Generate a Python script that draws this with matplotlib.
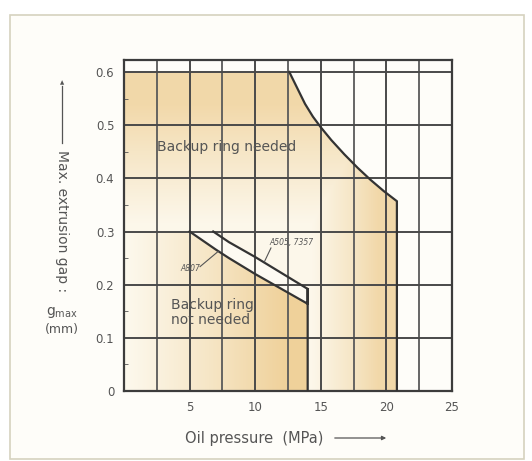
import numpy as np
import matplotlib
matplotlib.use("Agg")
import matplotlib.pyplot as plt
from matplotlib.patches import Polygon, Rectangle
from matplotlib.colors import LinearSegmentedColormap

# limit curve of the "backup ring needed" zone
limit_p = [12.6, 12.9, 13.3, 13.8, 14.4, 15.0, 15.8, 16.8, 17.8, 18.8, 19.8, 20.8]
limit_g = [0.600, 0.585, 0.565, 0.540, 0.516, 0.496, 0.472, 0.445, 0.420, 0.397, 0.376, 0.357]

# A807 line
a807_p = [5, 6, 7, 8, 9, 10, 11, 12, 13, 14]
a807_g = [0.300, 0.283, 0.266, 0.250, 0.235, 0.220, 0.206, 0.192, 0.178, 0.164]

# A505, 7357 line
a505_p = [6.8, 8, 10, 12, 14]
a505_g = [0.300, 0.280, 0.252, 0.222, 0.192]

x_ticks = [5, 10, 15, 20, 25]
y_ticks = [0, 0.1, 0.2, 0.3, 0.4, 0.5, 0.6]
y_labels = ["0", "0.1", "0.2", "0.3", "0.4", "0.5", "0.6"]

fig = plt.figure(figsize=(5.32, 4.61), dpi=100)
fig.patch.set_facecolor("white")
W, H = 532, 461

# outer frame
fig.patches.append(Rectangle((10 / W, 1 - 459 / H), 514 / W, 444 / H,
                             transform=fig.transFigure, facecolor="#fefdf9",
                             edgecolor="#d6d2bf", lw=1.2, zorder=-5))

ax = fig.add_axes([124 / W, 1 - 391 / H, 328 / W, 331 / H])
ax.set_facecolor("none")
xmax, ymax = 25, 0.6226
ax.set_xlim(0, xmax)
ax.set_ylim(0, ymax)

cmap = LinearSegmentedColormap.from_list("tan", ["#fdf9ee", "#f6e6c6", "#efcf96"])
X, Y = np.meshgrid(np.linspace(0, xmax, 500), np.linspace(0, ymax, 300))

# needed zone
outer = [(0, 0), (0, 0.6)] + list(zip(limit_p, limit_g)) + [(limit_p[-1], 0)]
t_out = np.clip(np.maximum((Y - 0.3) / 0.3, (X - 14) / 6.8), 0.05, 0.8)
im1 = ax.imshow(t_out, extent=[0, xmax, 0, ymax], origin="lower", cmap=cmap,
                vmin=0, vmax=1, aspect="auto", zorder=0)
p1 = Polygon(outer, closed=True, transform=ax.transData, fc="none", ec="none")
ax.add_patch(p1)
im1.set_clip_path(p1)

# not needed zone
inner = [(0, 0), (0, 0.3)] + list(zip(a807_p, a807_g)) + [(a807_p[-1], 0)]
t_in = np.clip(X / 13.0, 0.02, 0.95)
im2 = ax.imshow(t_in, extent=[0, xmax, 0, ymax], origin="lower", cmap=cmap,
                vmin=0, vmax=1, aspect="auto", zorder=0.1)
p2 = Polygon(inner, closed=True, transform=ax.transData, fc="none", ec="none")
ax.add_patch(p2)
im2.set_clip_path(p2)

# band between the two seal lines
band = list(zip(a807_p, a807_g)) + list(zip(a505_p[::-1], a505_g[::-1]))
ax.add_patch(Polygon(band, closed=True, fc="#fdfaf2", ec="none", zorder=0.2))

# grid
ax.set_xticks(x_ticks)
ax.set_xticks([2.5, 7.5, 12.5, 17.5, 22.5], minor=True)
ax.set_yticks(y_ticks)
ax.set_yticklabels(y_labels)
ax.set_yticks(np.arange(0.05, 0.6, 0.1), minor=True)
ax.grid(True, which="major", axis="both", color="#4a4a4a", lw=1.4)
ax.grid(True, which="minor", axis="x", color="#5a5a5a", lw=1.3)
ax.tick_params(which="major", length=0, pad=7, labelsize=8.5, labelcolor="#555555")
ax.tick_params(axis="y", which="minor", direction="in", length=3, color="#555555")
ax.tick_params(axis="x", which="minor", length=0)
for s in ax.spines.values():
    s.set_color("#3c3c3c")
    s.set_linewidth(1.6)

# boundary lines
ax.plot(limit_p + [limit_p[-1]], limit_g + [0], color="#333333", lw=1.6, zorder=3)
ax.plot(a807_p + [a807_p[-1], a807_p[-1]], a807_g + [a505_g[-1], 0],
        color="#333333", lw=1.6, zorder=3)
ax.plot(a505_p, a505_g, color="#333333", lw=1.6, zorder=3)

# labels in the plot
ax.text(7.8, 0.459, "Backup ring needed", ha="center", va="center",
        fontsize=10, color="#555555")
ax.text(3.6, 0.148, "Backup ring\nnot needed", ha="left", va="center",
        fontsize=10, color="#555555", linespacing=1.05)
ax.text(4.3, 0.231, "A807", ha="left", va="center", fontsize=5.5,
        style="italic", color="#555555")
ax.plot([5.8, 7.2], [0.234, 0.263], color="#555555", lw=0.8, zorder=3)
ax.text(11.1, 0.279, "A505, 7357", ha="left", va="center", fontsize=5.5,
        style="italic", color="#555555")
ax.plot([11.2, 10.7], [0.269, 0.243], color="#555555", lw=0.8, zorder=3)

# y axis label with arrow
fig.add_artist(plt.Line2D([62 / W, 62 / W], [1 - 143 / H, 1 - 86 / H],
                          color="#555555", lw=0.9))
fig.text(62 / W, 1 - 83 / H, "\u25b2", ha="center", va="center", fontsize=4,
         color="#555555")
fig.text(62 / W, 1 - 150 / H, "Max. extrusion gap :", rotation=270, ha="center",
         va="top", fontsize=10, color="#555555")
fig.text(62 / W, 1 - 312 / H, r"g$_{\rm max}$", ha="center", va="center",
         fontsize=10, color="#555555")
fig.text(62 / W, 1 - 329 / H, "(mm)", ha="center", va="center",
         fontsize=9, color="#555555")

# x axis label with arrow
fig.text(185 / W, 1 - 438 / H, "Oil pressure  (MPa)", ha="left", va="center",
         fontsize=10.5, color="#555555")
ax.annotate("", xy=(389 / W, 1 - 438 / H), xytext=(332 / W, 1 - 438 / H),
            xycoords="figure fraction",
            arrowprops=dict(arrowstyle="-|>", color="#555555", lw=0.9,
                            mutation_scale=6))

fig.savefig("out.png", dpi=100)
